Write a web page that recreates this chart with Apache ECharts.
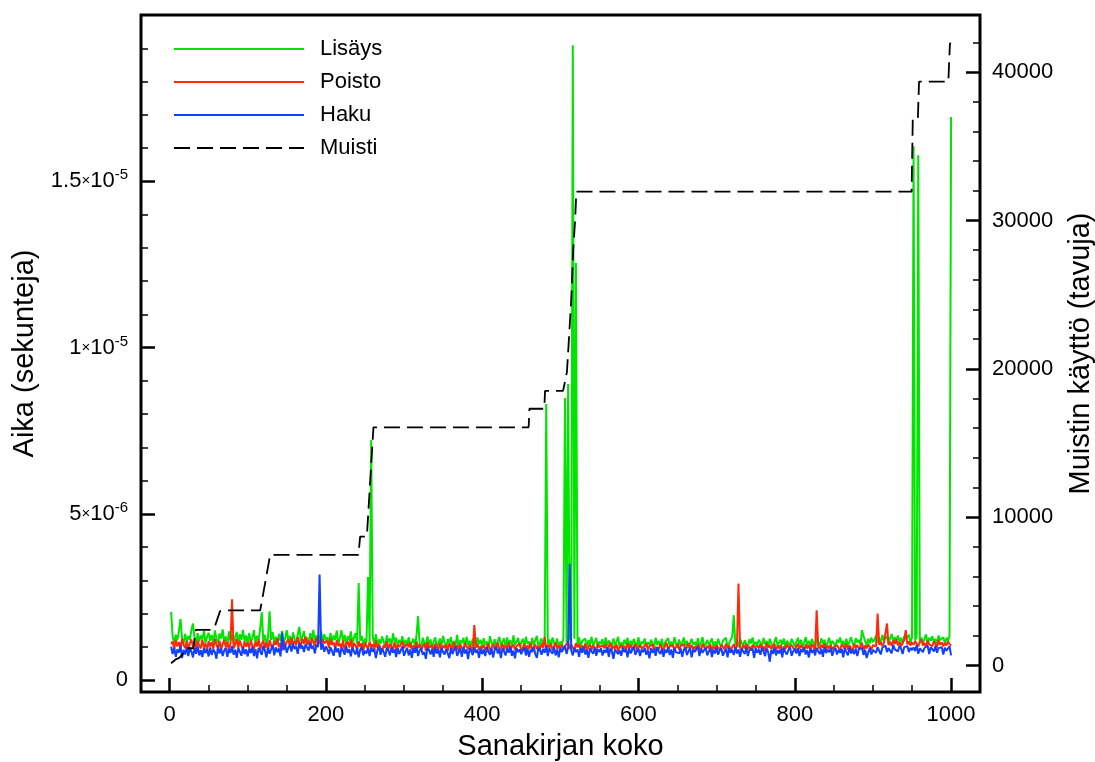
<!DOCTYPE html>
<html><head><meta charset="utf-8">
<script src="https://cdn.jsdelivr.net/npm/echarts@6/dist/echarts.min.js"></script>
<style>html,body{margin:0;padding:0;background:#fff}#c{width:1095px;height:762px}</style>
</head><body><div id="c"></div>
<script>
// Values in units of 1e-8 seconds, sampled at sizes 2,4,...,1000
const lisays = [
205,131,112,136,120,146,183,126,108,139,115,132,121,150,170,127,110,141,116,134,122,147,112,130,142,
118,136,109,149,124,111,140,125,152,113,131,108,146,119,137,112,128,145,110,138,121,151,116,134,107,
142,114,127,150,111,133,122,155,204,117,136,106,128,207,120,144,113,130,105,139,118,148,112,126,150,
117,133,104,143,123,110,137,160,118,131,147,112,128,106,141,121,151,114,135,108,126,146,112,138,119,
129,108,142,113,134,121,149,106,127,150,115,136,104,132,119,146,110,128,141,109,292,118,133,103,125,
112,310,117,722,130,107,138,102,122,109,131,116,100,134,113,125,104,140,115,127,101,121,110,132,98,
121,103,129,97,114,124,100,134,192,109,96,127,113,101,131,105,122,94,116,128,99,112,125,104,133,
110,98,123,113,129,100,117,104,136,95,120,111,127,99,130,106,118,102,124,112,97,128,108,121,101,
126,105,116,98,132,111,102,123,95,117,130,103,114,125,97,128,107,120,100,134,106,115,127,99,112,
124,101,130,108,116,96,127,105,120,133,100,113,125,103,118,830,107,122,98,128,111,102,125,95,116,
105,126,848,113,890,119,131,1909,124,1254,108,128,99,117,112,125,96,120,106,130,101,114,127,98,116,
108,123,95,128,103,119,111,99,125,105,116,130,97,114,102,121,107,127,98,118,104,124,111,100,129,
97,116,108,125,100,114,104,121,111,98,127,105,118,101,124,95,113,107,126,102,116,99,129,110,97,
122,104,113,128,101,118,96,110,124,106,115,102,126,99,113,129,100,108,121,105,111,125,97,116,103,
124,107,100,118,112,127,98,110,121,131,195,104,116,99,125,112,102,120,107,96,123,110,128,101,115,
105,121,112,99,127,107,118,101,124,110,96,115,129,103,113,121,106,125,98,118,111,102,124,113,100,
115,127,107,121,99,113,129,104,118,101,124,110,97,131,115,102,126,108,121,96,112,127,104,118,110,
100,121,112,128,107,118,98,124,104,115,129,110,101,126,113,121,106,150,132,117,104,124,110,128,114,
122,134,112,128,108,136,120,116,131,110,126,139,114,129,118,134,115,127,109,132,124,119,136,111,128,
1605,119,133,1578,114,128,108,125,137,106,127,118,132,112,124,107,134,120,115,129,110,127,117,133,1693
];
const poisto = [
108,116,92,121,101,114,94,124,105,96,118,89,111,122,99,115,91,119,103,95,121,98,110,88,117,
101,114,93,123,106,96,118,90,109,120,99,115,88,111,243,95,107,124,97,119,103,91,116,100,113,
96,119,104,92,115,101,123,91,109,118,97,113,87,121,103,94,117,106,126,98,111,89,119,104,115,
122,101,127,110,117,104,129,113,102,124,109,131,106,119,98,126,114,103,128,108,120,100,123,111,105,
118,96,124,106,113,93,120,102,110,95,119,90,108,116,98,123,94,111,104,91,117,100,110,88,113,
103,92,116,99,108,89,119,96,107,112,86,105,97,117,91,109,101,94,114,88,107,99,93,116,96,
90,109,99,113,92,104,85,116,96,107,91,101,110,88,114,97,94,105,84,109,99,92,112,89,104,
96,107,88,111,99,91,114,95,104,85,109,97,89,112,101,93,106,96,87,165,99,108,91,102,95,
105,91,99,110,86,97,108,92,102,112,88,98,109,90,104,95,114,85,100,107,91,102,96,111,88,
98,109,90,104,95,112,86,100,107,93,102,91,110,97,130,88,106,98,109,90,101,113,93,104,96,
107,91,102,97,115,93,106,100,89,111,98,109,87,103,95,110,86,100,107,91,104,97,88,109,99,
93,104,97,109,88,100,112,91,103,95,107,86,99,106,93,103,89,110,97,105,91,101,109,88,99,
106,95,89,103,110,91,101,97,108,86,99,104,93,109,96,88,103,112,91,101,97,106,90,99,109,
91,103,97,108,88,99,111,95,105,90,101,93,107,97,86,109,99,91,103,95,107,88,101,93,105,
97,90,106,101,93,109,95,104,88,99,108,91,103,290,97,90,105,95,109,93,101,88,106,97,91,
103,95,108,91,101,88,111,97,105,93,99,109,90,103,95,106,86,101,93,108,97,91,105,99,88,
101,109,93,105,97,90,107,95,104,91,108,99,88,210,101,93,105,97,110,90,103,95,106,91,99,
93,105,97,90,107,101,95,109,91,104,99,88,108,97,105,93,101,112,90,104,95,107,99,91,105,
110,101,200,106,114,102,111,117,170,105,115,103,119,109,122,104,115,101,112,120,150,107,116,104,113,
106,117,109,101,114,122,104,111,99,119,107,113,102,116,109,98,120,106,113,101,111,104,116,108,103
];
const haku = [
100,78,97,70,92,83,103,66,91,77,99,72,95,86,68,96,79,101,74,90,69,97,81,93,71,
98,75,92,84,64,101,80,95,72,89,97,70,94,82,102,76,91,67,96,85,73,99,78,92,71,
95,81,100,72,93,65,97,86,76,103,89,68,96,79,92,106,74,98,84,95,71,143,90,107,82,
97,105,86,110,93,101,79,112,95,104,84,108,98,89,111,94,103,80,107,99,317,91,109,85,101,
92,78,98,87,73,100,84,95,69,97,89,76,102,82,93,71,98,86,77,96,68,91,99,74,88,
80,96,72,98,85,93,66,90,100,76,95,84,70,97,88,74,99,82,92,69,96,78,90,101,73,
86,97,74,92,67,95,82,100,72,89,96,76,84,64,98,90,77,93,70,99,80,92,68,96,84,
77,94,88,66,97,78,90,100,73,84,95,70,98,80,92,63,96,86,75,99,82,91,67,95,78,
92,72,98,84,76,96,68,90,100,80,93,66,97,86,74,95,82,101,73,89,65,96,84,92,78,
89,98,74,95,70,92,84,100,78,67,97,90,76,94,82,103,72,96,86,79,99,74,92,68,97,
84,95,103,78,98,350,89,74,97,84,92,70,96,82,100,77,90,67,95,86,79,98,73,93,84,
96,74,90,82,99,70,95,86,64,92,98,78,89,73,97,84,93,68,96,80,90,100,76,86,95,
72,92,84,97,76,89,65,96,82,94,73,99,86,78,95,70,91,82,98,75,92,67,97,84,89,
80,95,70,91,98,75,87,96,68,92,84,78,100,72,94,82,90,97,74,86,95,69,91,80,98,
76,89,96,73,85,94,68,97,82,91,75,99,80,92,70,95,86,78,98,72,90,84,94,67,96,
82,92,76,97,86,72,95,84,55,91,79,98,74,90,80,94,68,96,84,77,91,98,73,86,94,
80,96,72,92,84,98,77,90,68,95,82,91,74,97,86,78,94,70,99,81,91,84,95,73,90,
97,77,91,82,94,68,96,84,74,98,80,90,78,95,72,92,86,97,75,91,66,83,96,77,90,
94,82,99,88,77,97,91,104,84,96,100,80,106,92,98,86,103,95,78,99,93,102,84,97,90,
98,87,105,79,95,100,84,97,92,103,78,99,93,86,102,82,96,90,99,77,97,88,94,101,74
];
// Memory (bytes) breakpoints
const muistiX = [2,9,12,16,22,30.5,33.6,54,58,64.6,71,116,128.8,241.7,243.9,252.5,260.9,459.5,460.5,479.5,480.5,503.5,506,508.5,510,514,516.5,519,520.5,949.5,951,957.5,959,996.5,998.5,1000];
const muistiV = [150,450,500,710,1160,1160,2400,2400,2630,3660,3710,3710,7460,7460,8690,8690,16060,16060,17310,17310,18520,18520,19130,19800,21090,24660,28030,30060,31950,31950,36880,36880,39370,39370,41940,41940];

const seriesNames = ['Lisäys','Poisto','Haku','Muisti'];
const xMajorTicks = [0,200,400,600,800,1000];
const xMinorTicks = [50,100,150,250,300,350,450,500,550,650,700,750,850,900,950];
const leftMajorTicks = [0,5e-6,1e-5,1.5e-5];
const leftTickLabels = [['0',''],['5','-6'],['1','-5'],['1.5','-5']];
const leftMinorTicks = [1e-6,2e-6,3e-6,4e-6,6e-6,7e-6,8e-6,9e-6,1.1e-5,1.2e-5,1.3e-5,1.4e-5,1.6e-5,1.7e-5,1.8e-5,1.9e-5];
const rightMajorTicks = [0,10000,20000,30000,40000];
const rightMinorTicks = [2000,4000,6000,8000,12000,14000,16000,18000,22000,24000,26000,28000,32000,34000,36000,38000,42000];

const UNIT = 1e-8;
const sizes = lisays.map((_, i) => 2 * i + 2);
const toPairs = arr => arr.map((v, i) => [sizes[i], v * UNIT]);

const FONT = '"Liberation Sans", Arial, Helvetica, sans-serif';
const XMIN = -36.5, XMAX = 1037;
const LMIN = -3.6e-7, LMAX = 2.0e-5;
const RMIN = -1790, RMAX = 43860;
const TICK_FS = 22, NAME_FS = 29;

function leftFmt(v) {
  let best = 0, d = Infinity;
  leftMajorTicks.forEach((t, i) => { const dd = Math.abs(t - v); if (dd < d) { d = dd; best = i; } });
  const [m, e] = leftTickLabels[best];
  if (!e) return '{m|' + m + '}';
  return '{m|' + m + '}{x|×}{m|10}{s|' + e + '}';
}

const tickMajor = {color:'#000', width:2.5};
const tickMinor = {color:'#000', width:1.5};
const noLine = {show:false, onZero:false};

const option = {
  animation: false,
  backgroundColor: '#fff',
  textStyle: {fontFamily: FONT, color: '#000'},
  grid: {left: 141, right: 115, top: 15, bottom: 70, show: true, borderColor: '#000', borderWidth: 3, backgroundColor: 'transparent', containLabel: false, outerBoundsMode: 'none'},
  legend: {
    data: seriesNames, orient: 'vertical', left: 168, top: 33,
    itemWidth: 130, itemHeight: 20, itemGap: 11,
    itemStyle: {opacity: 0},
    textStyle: {fontFamily: FONT, fontSize: 22, color: '#000', padding: [0,0,0,11]}
  },
  xAxis: [
    {type:'value', min: XMIN, max: XMAX, position:'bottom',
     axisLine:noLine, splitLine:{show:false},
     axisTick:{inside:true, length:14, lineStyle:tickMajor, customValues:xMajorTicks},
     axisLabel:{customValues:xMajorTicks, fontFamily:FONT, fontSize:TICK_FS, color:'#000', margin:12, formatter: v => String(v)},
     name:'Sanakirjan koko', nameLocation:'middle', nameGap:40,
     nameTextStyle:{fontFamily:FONT, fontSize:NAME_FS, color:'#000'}},
    {type:'value', min: XMIN, max: XMAX, position:'bottom',
     axisLine:noLine, splitLine:{show:false},
     axisTick:{inside:true, length:7, lineStyle:tickMinor, customValues:xMinorTicks},
     axisLabel:{show:false}}
  ],
  yAxis: [
    {type:'value', min: LMIN, max: LMAX, position:'left',
     axisLine:noLine, splitLine:{show:false},
     axisTick:{inside:true, length:14, lineStyle:tickMajor, customValues:leftMajorTicks},
     axisLabel:{customValues:leftMajorTicks, margin:13, formatter: leftFmt,
       rich:{
         m:{fontFamily:FONT, fontSize:TICK_FS, color:'#000', lineHeight:27},
         x:{fontFamily:FONT, fontSize:15, color:'#000', lineHeight:27},
         s:{fontFamily:FONT, fontSize:15, color:'#000', lineHeight:15, verticalAlign:'top'}
       }},
     name:'Aika (sekunteja)', nameLocation:'middle', nameGap:99, nameRotate:90,
     nameTextStyle:{fontFamily:FONT, fontSize:NAME_FS, color:'#000'}},
    {type:'value', min: RMIN, max: RMAX, position:'right',
     axisLine:noLine, splitLine:{show:false},
     axisTick:{inside:true, length:14, lineStyle:tickMajor, customValues:rightMajorTicks},
     axisLabel:{customValues:rightMajorTicks, fontFamily:FONT, fontSize:TICK_FS, color:'#000', margin:12, formatter: v => String(v)},
     name:'Muistin käyttö (tavuja)', nameLocation:'middle', nameGap:86, nameRotate:90,
     nameTextStyle:{fontFamily:FONT, fontSize:NAME_FS, color:'#000'}},
    {type:'value', min: LMIN, max: LMAX, position:'left',
     axisLine:noLine, splitLine:{show:false},
     axisTick:{inside:true, length:7, lineStyle:tickMinor, customValues:leftMinorTicks},
     axisLabel:{show:false}},
    {type:'value', min: RMIN, max: RMAX, position:'right',
     axisLine:noLine, splitLine:{show:false},
     axisTick:{inside:true, length:7, lineStyle:tickMinor, customValues:rightMinorTicks},
     axisLabel:{show:false}}
  ],
  series: [
    {name: seriesNames[0], type:'line', xAxisIndex:0, yAxisIndex:0, data: toPairs(lisays),
     symbol:'none', showSymbol:false, lineStyle:{color:'#00e400', width:2}, itemStyle:{color:'#00e400'}},
    {name: seriesNames[1], type:'line', xAxisIndex:0, yAxisIndex:0, data: toPairs(poisto),
     symbol:'none', showSymbol:false, lineStyle:{color:'#ff2a0a', width:2}, itemStyle:{color:'#ff2a0a'}},
    {name: seriesNames[2], type:'line', xAxisIndex:0, yAxisIndex:0, data: toPairs(haku),
     symbol:'none', showSymbol:false, lineStyle:{color:'#1240ff', width:2}, itemStyle:{color:'#1240ff'}},
    {name: seriesNames[3], type:'line', xAxisIndex:0, yAxisIndex:1, data: muistiX.map((x, i) => [x, muistiV[i]]),
     symbol:'none', showSymbol:false, lineStyle:{color:'#000', width:1.8, type:[16,7]}, itemStyle:{color:'#000'}}
  ]
};
const chart = echarts.init(document.getElementById('c'));
chart.setOption(option);
</script>
</body></html>
